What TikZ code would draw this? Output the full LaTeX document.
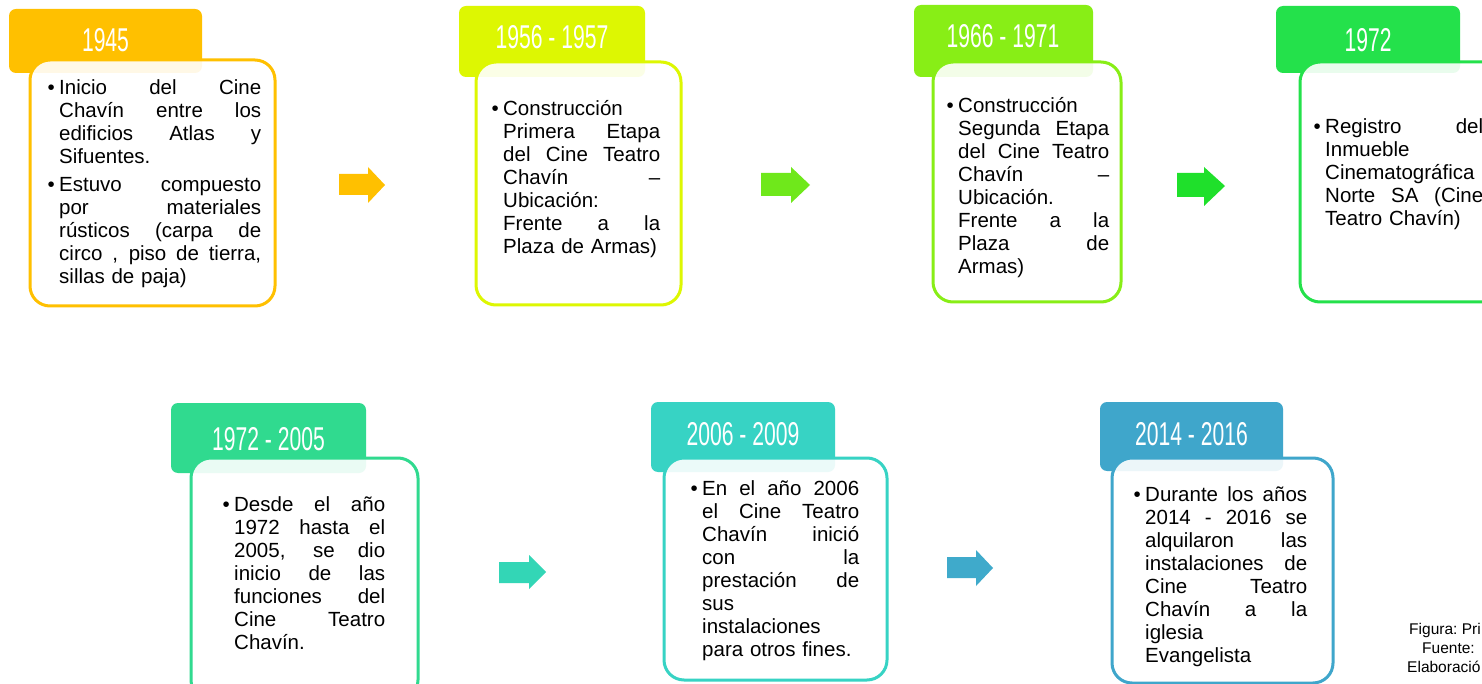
\documentclass[tikz,border=0pt]{standalone}
\usepackage{fontspec}
\setmainfont{Liberation Sans}
\newfontfamily\hdrfont{Liberation Sans}[FakeStretch=0.64]
\definecolor{cA}{HTML}{FFC000}
\definecolor{cB}{HTML}{DDF702}
\definecolor{cC}{HTML}{88EE16}
\definecolor{cD}{HTML}{24E14B}
\definecolor{cE}{HTML}{30DA8F}
\definecolor{cF}{HTML}{37D3C4}
\definecolor{cG}{HTML}{3FA6CB}
\definecolor{aA}{HTML}{FFC000}
\definecolor{aB}{HTML}{6FE81B}
\definecolor{aC}{HTML}{1FE02B}
\definecolor{aD}{HTML}{33D6B6}
\definecolor{aE}{HTML}{3FAACB}
\newlength{\jw}
\newcommand{\bodyfont}{\fontsize{20.5}{23}\selectfont\lineskiplimit=-100pt\parindent=0pt}
\newcommand{\jline}[1]{\noindent\hbox to \jw{\spaceskip=\fontdimen2\font plus 1fil\relax\xspaceskip=\spaceskip #1}\par}
\newcommand{\pline}[1]{\noindent\mbox{#1}\par}
\newcommand{\fst}{\llap{•\hspace{4.5pt}}\rule{0pt}{22pt}}
\newcommand{\bul}{\llap{•\hspace{4.5pt}}}
\tikzset{
  hdr/.style={fill=#1, draw=none, rounded corners=7pt},
  bodybox/.style={draw=#1, line width=3pt, fill=white, fill opacity=0.9, rounded corners=20pt},
  hdrtext/.style={anchor=base, inner sep=0, text=white, font=\hdrfont\fontsize{33}{33}\selectfont},
  btext/.style={anchor=north west, inner sep=0, text width=#1, font=\bodyfont, text=black},
  blockarrow/.style={fill=#1, draw=none},
  foot/.style={anchor=base west, inner sep=0, font=\fontsize{15.5}{19}\selectfont\frenchspacing, text=black}
}
\begin{document}
\begin{tikzpicture}[x=1pt, y=-1pt]
\useasboundingbox (0,0) rectangle (1482,684);
\clip (0,0) rectangle (1482,684);
\fill[white] (0,0) rectangle (1482,684);

% ---- Box 1
\fill[hdr=cA] (9,9) rectangle (202,73);
\path[bodybox=cA] (30,60) rectangle (275,306);
\node[hdrtext] (h1) at (105.5,52) {1945};
\setlength{\jw}{202pt}
\node[btext=202pt] (t1) at (59,72) {%
\jline{\fst Inicio del Cine}
\jline{Chavín entre los}
\jline{edificios Atlas y}
\pline{Sifuentes.}
\vspace{5pt}
\jline{\bul Estuvo compuesto}
\jline{por materiales}
\jline{rústicos (carpa de}
\jline{circo , piso de tierra,}
\pline{sillas de paja)}};

% ---- Box 2
\fill[hdr=cB] (459,6) rectangle (645,77);
\path[bodybox=cB] (476,62) rectangle (681,305);
\node[hdrtext] (h2) at (552,49) {1956 - 1957};
\setlength{\jw}{157pt}
\node[btext=157pt] (t2) at (503,93) {%
\pline{\fst Construcción}
\jline{Primera Etapa}
\jline{del Cine Teatro}
\jline{Chavín –}
\pline{Ubicación:}
\jline{Frente a la}
\pline{Plaza de Armas)}};

% ---- Box 3
\fill[hdr=cC] (914,5) rectangle (1093,77);
\path[bodybox=cC] (933,62) rectangle (1121,302);
\node[hdrtext] (h3) at (1003,48) {1966 - 1971};
\setlength{\jw}{151pt}
\node[btext=151pt] (t3) at (958,90) {%
\pline{\fst Construcción}
\jline{Segunda Etapa}
\jline{del Cine Teatro}
\jline{Chavín –}
\pline{Ubicación.}
\jline{Frente a la}
\jline{Plaza de}
\pline{Armas)}};

% ---- Box 4
\fill[hdr=cD] (1276,6) rectangle (1460,73);
\path[bodybox=cD] (1300,62) rectangle (1505,302);
\node[hdrtext] (h4) at (1368,52) {1972};
\setlength{\jw}{158pt}
\node[btext=158pt] (t4) at (1325,111) {%
\jline{\fst Registro del}
\pline{Inmueble}
\pline{Cinematográfica}
\jline{Norte SA (Cine}
\pline{Teatro Chavín)}};

% ---- Box 5
\fill[hdr=cE] (171,403) rectangle (366,473);
\path[bodybox=cE] (191,458) rectangle (418,700);
\node[hdrtext] (h5) at (268.5,450) {1972 - 2005};
\setlength{\jw}{151pt}
\node[btext=151pt] (t5) at (234,489) {%
\jline{\fst Desde el año}
\jline{1972 hasta el}
\jline{2005, se dio}
\jline{inicio de las}
\jline{funciones del}
\jline{Cine Teatro}
\pline{Chavín.}};

% ---- Box 6
\fill[hdr=cF] (651,402) rectangle (835,472);
\path[bodybox=cF] (664,458) rectangle (887,680);
\node[hdrtext] (h6) at (743,445) {2006 - 2009};
\setlength{\jw}{157pt}
\node[btext=157pt] (t6) at (702,473) {%
\jline{\fst En el año 2006}
\jline{el Cine Teatro}
\jline{Chavín inició}
\jline{con la}
\jline{prestación de}
\pline{sus}
\pline{instalaciones}
\pline{para otros fines.}};

% ---- Box 7
\fill[hdr=cG] (1100,402) rectangle (1283,471);
\path[bodybox=cG] (1112,458) rectangle (1333,683);
\node[hdrtext] (h7) at (1191.5,445) {2014 - 2016};
\setlength{\jw}{162pt}
\node[btext=162pt] (t7) at (1145,479) {%
\jline{\fst Durante los años}
\jline{2014 - 2016 se}
\jline{alquilaron las}
\jline{instalaciones de}
\jline{Cine Teatro}
\jline{Chavín a la}
\pline{iglesia}
\pline{Evangelista}};

% ---- Block arrows
\fill[blockarrow=aA] (339,174) -- (368,174) -- (368,167) -- (385,185) -- (368,203) -- (368,195) -- (339,195) -- cycle;
\fill[blockarrow=aB] (761,173) -- (791,173) -- (791,167) -- (810,185) -- (791,203) -- (791,196) -- (761,196) -- cycle;
\fill[blockarrow=aC] (1177,173) -- (1204,173) -- (1204,167) -- (1225,186) -- (1204,206) -- (1204,197) -- (1177,197) -- cycle;
\fill[blockarrow=aD] (499,562) -- (529,562) -- (529,555) -- (546,572) -- (529,589) -- (529,583) -- (499,583) -- cycle;
\fill[blockarrow=aE] (947,557) -- (976,557) -- (976,550) -- (993,568) -- (976,586) -- (976,578) -- (947,578) -- cycle;

% ---- Footer
\node[foot] (f1) at (1409,634) {Figura: Pri};
\node[foot] (f2) at (1422,653) {Fuente:};
\node[foot] (f3) at (1407,672) {Elaboració};
\end{tikzpicture}
\end{document}
